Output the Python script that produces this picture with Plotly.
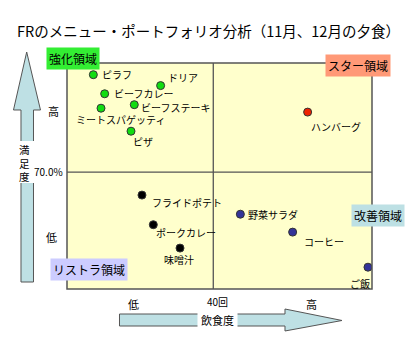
import plotly.graph_objects as go

# ---- data ----
menus = ["ピラフ", "ドリア", "ビーフカレー", "ビーフステーキ", "ミートスパゲッティ", "ピザ",
         "ハンバーグ",
         "フライドポテト", "ポークカレー", "味噌汁",
         "野菜サラダ", "コーヒー", "ご飯"]
eat_freq = [7.2, 25.6, 10.3, 18.4, 9.3, 17.5,
            65.8,
            20.5, 23.6, 30.9,
            47.4, 61.7, 82.3]
satisfaction = [95.0, 92.2, 90.1, 87.3, 86.4, 80.5,
                85.4,
                64.1, 56.5, 50.5,
                59.2, 54.6, 45.6]
group = ["強化", "強化", "強化", "強化", "強化", "強化",
         "スター",
         "リストラ", "リストラ", "リストラ",
         "改善", "改善", "改善"]
x_mid = 40
y_mid = 70.0
title = "FRのメニュー・ポートフォリオ分析（11月、12月の夕食）"
y_title = "満<br>足<br>度"
x_title = "飲食度"

# ---- styles ----
group_color = {"強化": "#11DD11", "スター": "#EE2200", "リストラ": "#000000", "改善": "#333399"}
# label placement relative to marker: (xanchor, dx px, dy px)
label_pos = [("left", 7, 0), ("left", 5, 8), ("left", 7, 0), ("left", 5, -2.5),
             ("center", 19, -11), ("left", 0, -10),
             ("left", 1, -14),
             ("left", 8, -7.5), ("left", 1, -8), ("center", -1, -11),
             ("left", 6, 0), ("left", 9, -9), ("right", 4, -16)]

W, H = 420, 350
L, R, T, B = 67, 372, 63, 289
XR = [0, 83.4]
YR = [40, 98]


def px(x):
    return (x - L) / (R - L)


def py(y):
    return (B - y) / (B - T)


FONT = "Noto Sans CJK JP"
AX = "#555555"
ARROW_FILL = "#BEE0E4"

fig = go.Figure()
fig.add_trace(go.Scatter(
    x=eat_freq, y=satisfaction, mode="markers",
    marker=dict(size=8, color=[group_color[g] for g in group],
                line=dict(color="#333333", width=1)),
    hoverinfo="text", text=menus, showlegend=False,
))

ann = []
for m, xv, yv, (xa, dx, dy) in zip(menus, eat_freq, satisfaction, label_pos):
    ann.append(dict(x=xv, y=yv, xref="x", yref="y", text=m, showarrow=False,
                    xanchor=xa, yanchor="middle", xshift=dx, yshift=dy,
                    font=dict(family=FONT, size=10, color="#000")))

# title
ann.append(dict(x=px(208), y=py(30), xref="paper", yref="paper", text=title,
                showarrow=False, xanchor="center", yanchor="middle",
                font=dict(family=FONT, size=14.5, color="#000")))

# quadrant labels
quad = [("強化領域", 73, 59, "#33EE33"), ("スター領域", 357.5, 65.5, "#FF9977"),
        ("改善領域", 377.5, 215.5, "#BDE0E4"), ("リストラ領域", 88.5, 269, "#CCCCFF")]
for t, cx, cy, bg in quad:
    ann.append(dict(x=px(cx), y=py(cy), xref="paper", yref="paper", text=t,
                    showarrow=False, xanchor="center", yanchor="middle",
                    bgcolor=bg, borderpad=2,
                    font=dict(family=FONT, size=12, color="#000")))

# axis tick-like texts
ticks = [("高", 53, 111), ("70.0%", 48, 171), ("低", 51, 237),
         ("低", 133, 304), ("40回", 217, 301), ("高", 311, 304)]
for t, cx, cy in ticks:
    ann.append(dict(x=px(cx), y=py(cy), xref="paper", yref="paper", text=t,
                    showarrow=False, xanchor="center", yanchor="middle",
                    font=dict(family=FONT, size=11 if len(t) == 1 else 10, color="#000")))

# axis titles
ann.append(dict(x=px(24), y=py(163), xref="paper", yref="paper", text=y_title,
                showarrow=False, xanchor="center", yanchor="middle",
                font=dict(family=FONT, size=10.5, color="#000")))
ann.append(dict(x=px(217), y=py(320), xref="paper", yref="paper", text=x_title,
                showarrow=False, xanchor="center", yanchor="middle", bgcolor="#FFFFFF",
                borderpad=3, font=dict(family=FONT, size=11, color="#000")))

shapes = []


def poly(pts):
    d = "M " + " L ".join(f"{px(a):.5f},{py(b):.5f}" for a, b in pts) + " Z"
    return dict(type="path", path=d, xref="paper", yref="paper",
                fillcolor=ARROW_FILL, line=dict(color=AX, width=1), layer="below")


# vertical arrow
shapes.append(poly([(26.7, 52), (40.5, 110), (33.5, 110), (33.5, 282),
                    (21, 282), (21, 110), (13.5, 110)]))
# white gap behind the vertical title
shapes.append(dict(type="rect", xref="paper", yref="paper",
                   x0=px(17), x1=px(37), y0=py(183), y1=py(141),
                   fillcolor="#FFFFFF", line=dict(width=0), layer="below"))
# horizontal arrow
shapes.append(poly([(119.5, 314), (285, 314), (285, 309), (342, 320.5),
                    (285, 331), (285, 326), (119.5, 326)]))
# mid lines
shapes.append(dict(type="line", xref="x", yref="paper", x0=x_mid, x1=x_mid, y0=0, y1=1,
                   line=dict(color=AX, width=1.3), layer="below"))
shapes.append(dict(type="line", xref="paper", yref="y", x0=0, x1=1, y0=y_mid, y1=y_mid,
                   line=dict(color=AX, width=1.3), layer="below"))
# border
shapes.append(dict(type="rect", xref="paper", yref="paper", x0=0, x1=1, y0=0, y1=1,
                   line=dict(color=AX, width=1.5), layer="above"))

fig.update_layout(
    width=W, height=H,
    margin=dict(l=L, r=W - R, t=T, b=H - B, pad=0),
    paper_bgcolor="#FFFFFF", plot_bgcolor="#FFFFCC",
    xaxis=dict(range=XR, visible=False, fixedrange=True),
    yaxis=dict(range=YR, visible=False, fixedrange=True),
    annotations=ann, shapes=shapes,
    font=dict(family=FONT),
)

fig.write_html("out.html", config={"displayModeBar": False})
